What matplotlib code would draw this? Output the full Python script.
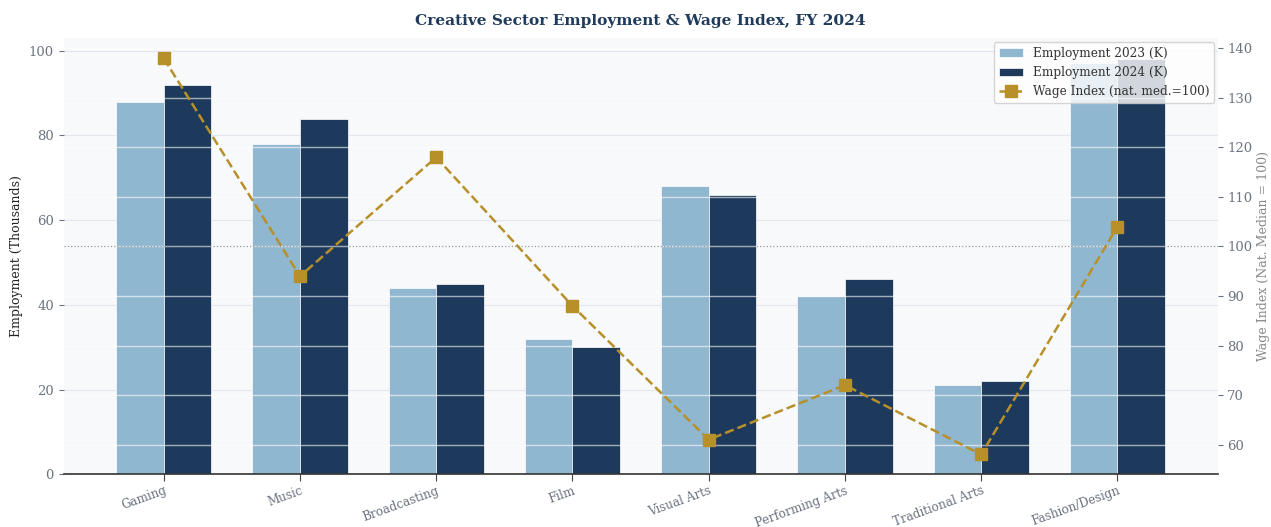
import numpy as np
import matplotlib.pyplot as plt

sectors = ["Gaming", "Music", "Broadcasting", "Film", "Visual Arts",
           "Performing Arts", "Traditional Arts", "Fashion/Design"]
emp_2023 = [88, 78, 44, 32, 68, 42, 21, 97]
emp_2024 = [92, 84, 45, 30, 66, 46, 22, 98]
wage_index = [138, 94, 118, 88, 61, 72, 58, 104]

light_blue = "#8fb7d0"
navy = "#1d3a5c"
gold = "#b8902a"
tick_grey = "#6b7280"

plt.rcParams["font.family"] = "DejaVu Serif"

fig, ax = plt.subplots(figsize=(12.71, 5.27), dpi=100)
fig.subplots_adjust(left=0.05, right=0.958, top=0.927, bottom=0.1)
ax.set_facecolor("#f8f9fb")

x = np.arange(len(sectors))
w = 0.35
b1 = ax.bar(x - w / 2, emp_2023, w, color=light_blue, edgecolor="white",
            linewidth=0.5, label="Employment 2023 (K)", zorder=2)
b2 = ax.bar(x + w / 2, emp_2024, w, color=navy, edgecolor="white",
            linewidth=0.5, label="Employment 2024 (K)", zorder=2)

ax.set_ylim(0, max(emp_2024) * 1.05)
ax.set_yticks(np.arange(0, 101, 20))
ax.grid(axis="y", color="#e3e6ec", linewidth=0.8, zorder=0)
ax.set_axisbelow(True)
ax.set_ylabel("Employment (Thousands)", fontsize=9, color="#222222")

ax.set_xticks(x)
ax.set_xticklabels(sectors, rotation=20, ha="right", rotation_mode="anchor",
                   fontsize=8.6)
ax.tick_params(axis="y", colors=tick_grey, labelsize=9.5)
ax.tick_params(axis="x", colors="#444444", length=5, pad=2)
for lbl in ax.get_xticklabels():
    lbl.set_color(tick_grey)

for s in ["top", "right", "left"]:
    ax.spines[s].set_visible(False)
ax.spines["bottom"].set_color("#333333")
ax.spines["bottom"].set_linewidth(1.2)

# wage index on a second axis
ax2 = ax.twinx()
ax2.plot(x, wage_index, color=gold, linestyle="--", linewidth=1.8,
         marker="s", markersize=8, label="Wage Index (nat. med.=100)", zorder=3)
ax2.axhline(100, color="#999999", linestyle=":", linewidth=0.9)
ax2.set_ylim(min(wage_index) - 4, max(wage_index) + 4)
ax2.set_yticks(np.arange(60, 141, 10))
ax2.grid(axis="y", color="white", linewidth=1.0, alpha=0.6)
ax2.set_ylabel("Wage Index (Nat. Median = 100)", fontsize=9, color="#888888",
               labelpad=3)
ax2.tick_params(axis="y", colors=tick_grey, labelsize=9.5)
for s in ["top", "right", "left", "bottom"]:
    ax2.spines[s].set_visible(False)

handles = [b1, b2] + ax2.get_legend_handles_labels()[0]
labels = [h.get_label() for h in handles]
leg = ax2.legend(handles, labels, loc="upper right", fontsize=8.7,
                 framealpha=0.8, edgecolor="#cccccc", borderaxespad=0.3,
                 labelcolor="#333333")
leg.set_zorder(5)

ax.set_title("Creative Sector Employment & Wage Index, FY 2024",
             fontsize=11.1, fontweight="bold", color="#1f3a5a", pad=10)

fig.savefig("out.png", dpi=100, facecolor="white")
